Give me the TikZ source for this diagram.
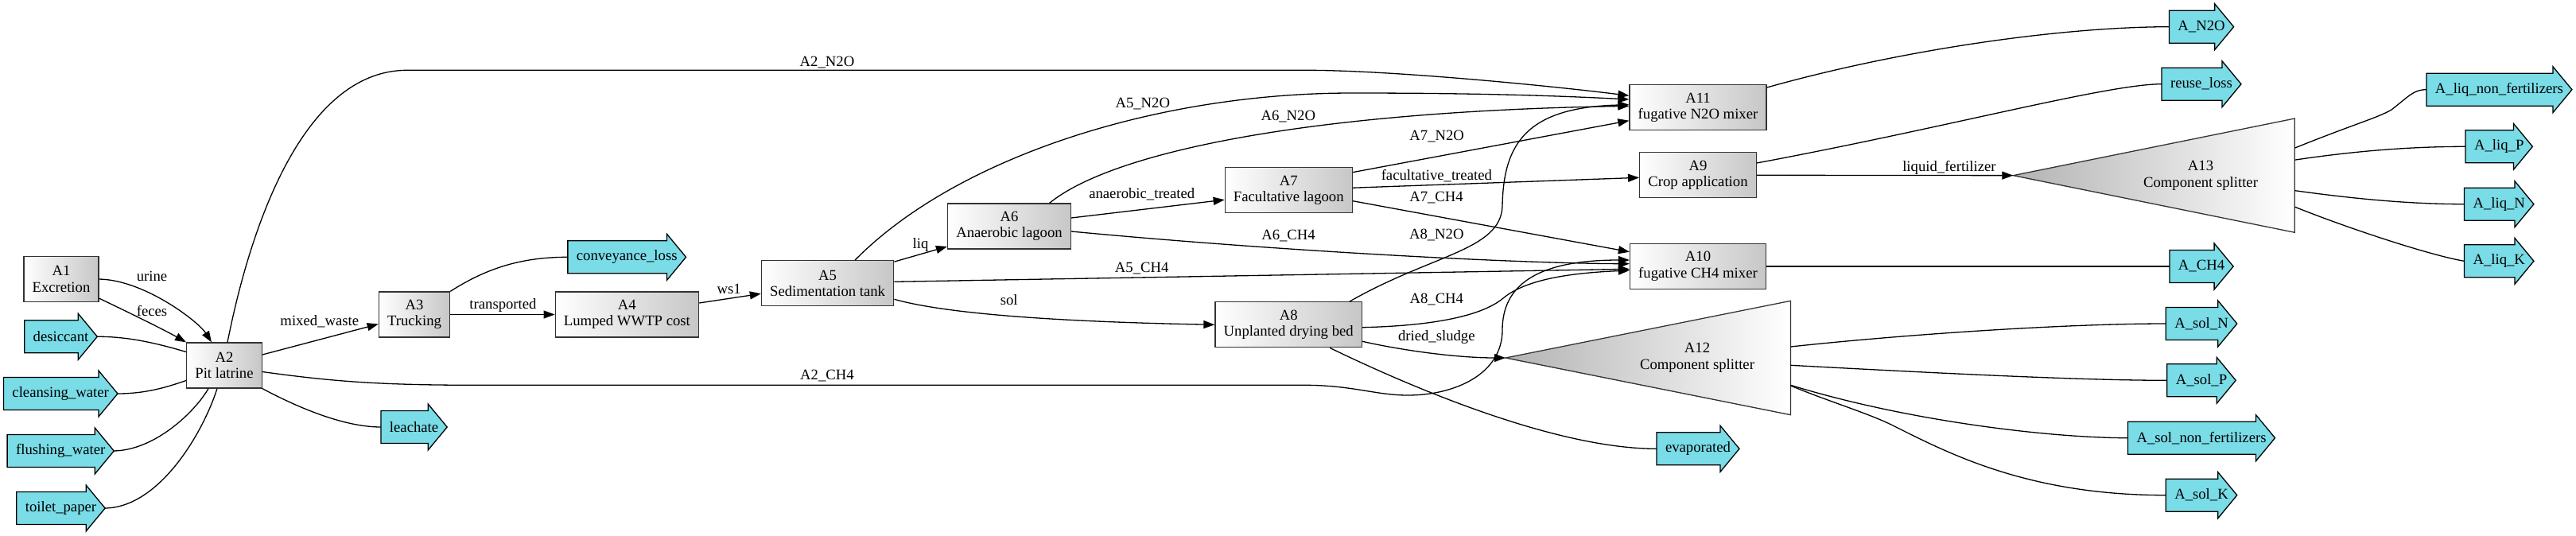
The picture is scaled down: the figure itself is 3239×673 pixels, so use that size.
\documentclass[tikz,border=0pt]{standalone}
\usepackage{fontspec}
\setmainfont{Liberation Serif}
\usetikzlibrary{arrows.meta,calc}
\pgfdeclarelayer{bgwhite}
\pgfdeclarelayer{background}
\pgfsetlayers{bgwhite,background,main}
\definecolor{outcyan}{RGB}{121,220,231}
\newcommand\nfont{\fontsize{18.7}{20.5}\selectfont}
\tikzset{
 proc/.style={draw=black!80, line width=1.3pt, left color=white, right color=black!22, minimum height=57pt, minimum width=72pt, inner xsep=10.7pt, inner ysep=0pt, align=center, font=\nfont},
 arrtext/.style={minimum height=41pt, inner xsep=11pt, inner ysep=0pt, outer sep=0pt, font=\nfont},
 arrshape/.style={fill=outcyan, draw=black, line width=1.3pt, line join=miter},
 splitbox/.style={inner sep=0pt, outer sep=0pt},
 splitshade/.style={left color=black!30, right color=white, draw=black!80, line width=1.3pt, line join=miter},
 flow/.style={line width=1.3pt, -{Triangle[length=14pt,width=10pt]}},
 link/.style={line width=1.3pt},
 lbl/.style={font=\nfont, inner sep=0pt},
}
\newcommand\flowarrow[4]{%
 \node[arrtext] (#1) at (#2,#3) {#4};
 \begin{pgfonlayer}{background}
 \filldraw[arrshape] (#1.south west) -- ($(#1.south east)+(-24,0)$) -- ($(#1.south east)+(-24,8.5)$) -- (#1.east) -- ($(#1.north east)+(-24,-8.5)$) -- ($(#1.north east)+(-24,0)$) -- (#1.north west) -- cycle;
 \end{pgfonlayer}}
\begin{document}
\begin{tikzpicture}[x=1pt,y=-1pt]
\begin{pgfonlayer}{bgwhite}\fill[white] (0,0) rectangle (3239,673);\end{pgfonlayer}
\useasboundingbox (0,0) rectangle (3239,673);
% process nodes
\node[proc] (A1) at (77,351) {A1\\Excretion};
\node[proc] (A2) at (282,459.5) {A2\\Pit latrine};
\node[proc] (A3) at (521,395.5) {A3\\Trucking};
\node[proc] (A4) at (788.4,395.5) {A4\\Lumped WWTP cost};
\node[proc] (A5) at (1040.6,356.3) {A5\\Sedimentation tank};
\node[proc] (A6) at (1269,284.5) {A6\\Anaerobic lagoon};
\node[proc] (A7) at (1620.3,239.2) {A7\\Facultative lagoon};
\node[proc] (A8) at (1620.2,408.3) {A8\\Unplanted drying bed};
\node[proc] (A9) at (2135,220.3) {A9\\Crop application};
\node[proc] (A10) at (2135,335) {A10\\fugative CH4 mixer};
\node[proc] (A11) at (2135,135.3) {A11\\fugative N2O mixer};
% splitters
\node[splitbox, minimum width=358.5pt, minimum height=143.4pt] (A12) at (2072.25,450) {};
\shadedraw[splitshade] (A12.west) -- (A12.north east) -- (A12.south east) -- cycle;
\node[lbl, align=center] (A12t) at ($(A12.center)+(61.75,0)$) {A12\\Component splitter};
\node[splitbox, minimum width=354pt, minimum height=143.3pt] (A13) at (2708.3,220.65) {};
\shadedraw[splitshade] (A13.west) -- (A13.north east) -- (A13.south east) -- cycle;
\node[lbl, align=center] (A13t) at ($(A13.center)+(58.7,0)$) {A13\\Component splitter};
% flow arrows
\flowarrow{desiccant}{76.5}{423.3}{desiccant}
\flowarrow{cleansing}{76.2}{495}{cleansing\_water}
\flowarrow{flushing}{76.2}{567}{flushing\_water}
\flowarrow{toilet}{76.5}{639}{toilet\_paper}
\flowarrow{leachate}{520.6}{537}{leachate}
\flowarrow{conveyance}{788.2}{323.3}{conveyance\_loss}
\flowarrow{evaporated}{2135}{564.3}{evaporated}
\flowarrow{AN2O}{2768}{33.7}{A\_N2O}
\flowarrow{reuse}{2768}{105.7}{reuse\_loss}
\flowarrow{ACH4}{2768}{335}{A\_CH4}
\flowarrow{solN}{2768}{407}{A\_sol\_N}
\flowarrow{solP}{2768}{478.3}{A\_sol\_P}
\flowarrow{solnon}{2768}{550.7}{A\_sol\_non\_fertilizers}
\flowarrow{solK}{2768}{622.7}{A\_sol\_K}
\flowarrow{liqnon}{3142.4}{112.7}{A\_liq\_non\_fertilizers}
\flowarrow{liqP}{3142.2}{184.3}{A\_liq\_P}
\flowarrow{liqN}{3142.2}{256.7}{A\_liq\_N}
\flowarrow{liqK}{3142.2}{328.3}{A\_liq\_K}
% edges
\draw[flow] (A1.east) .. controls (182,352) and (250,405) .. ($(A2.north)+(-16,0)$);
\draw[flow] ($(A1.south east)+(0,-5)$) .. controls (160,392) and (205,414) .. (A2.north west);
\draw[link] (desiccant.east) .. controls (165,423) and (205,434) .. ($(A2.west)+(0,-17)$);
\draw[link] (cleansing.east) .. controls (185,495) and (212,486) .. ($(A2.west)+(0,19)$);
\draw[link] (flushing.east) .. controls (195,566) and (245,518) .. ($(A2.south)+(-20,0)$);
\draw[link] (toilet.east) .. controls (200,638) and (255,545) .. ($(A2.south)+(-9,0)$);
\draw[flow] ($(A2.east)+(0,-13.5)$) -- ($(A3.west)+(0,12)$);
\draw[flow] ($(A2.north)+(4,0)$) .. controls (320,260) and (390,88.3) .. (512,88.3) -- (1642,88.3) .. controls (1750,88.3) and (1950,108) .. ($(A11.west)+(0,-15)$);
\draw[flow] ($(A2.east)+(0,8)$) .. controls (420,480) and (480,484.3) .. (600,484.3) -- (1640,484.3) .. controls (1700,484.3) and (1730,497) .. (1770,497) .. controls (1830,497) and (1889,470) .. (1889,415) .. controls (1889,360) and (1930,327) .. ($(A10.west)+(0,-8)$);
\draw[flow] (A3.east) -- (A4.west);
\draw[link] (A3.north east) .. controls (615,335) and (660,323.3) .. (conveyance.west);
\draw[link] (A2.south east) .. controls (370,510) and (430,537) .. (leachate.west);
\draw[flow] ($(A4.east)+(0,-14.5)$) -- ($(A5.west)+(0,13)$);
\draw[flow] ($(A5.north east)+(0,2)$) -- ($(A6.west)+(0,25.5)$);
\draw[flow] ($(A5.north)+(34.4,0)$) .. controls (1200,200) and (1450,117) .. (1700,117) .. controls (1850,117) and (1950,120) .. ($(A11.west)+(0,-10.3)$);
\draw[flow] ($(A5.east)+(0,-2)$) -- ($(A10.west)+(0,3.3)$);
\draw[flow] ($(A5.east)+(0,20)$) .. controls (1180,392) and (1300,404) .. (A8.west);
\draw[flow] ($(A6.east)+(0,-10.5)$) -- ($(A7.west)+(0,12)$);
\draw[flow] ($(A6.north)+(50.6,0)$) .. controls (1400,190) and (1650,140) .. ($(A11.west)+(0,-2)$);
\draw[flow] ($(A6.east)+(0,6.5)$) .. controls (1600,315) and (1900,331) .. ($(A10.west)+(0,-3.3)$);
\draw[flow] ($(A7.north east)+(0,6.6)$) -- ($(A11.west)+(0,16.4)$);
\draw[flow] ($(A7.east)+(0,-3)$) -- ($(A9.west)+(0,3)$);
\draw[flow] ($(A7.east)+(0,13.5)$) -- ($(A10.west)+(0,-18.3)$);
\draw[flow] ($(A8.north)+(76.7,0)$) .. controls (1800,320) and (1886,315) .. (1889,260) .. controls (1890,180) and (1920,135) .. ($(A11.west)+(0,-3.6)$);
\draw[flow] ($(A8.east)+(0,3.4)$) .. controls (1790,410) and (1860,400) .. (1890,375) .. controls (1920,350) and (1980,343) .. ($(A10.west)+(0,5)$);
\draw[flow] ($(A8.east)+(0,21)$) .. controls (1760,440) and (1830,450) .. (A12.west);
\draw[link] ($(A8.south)+(52,0)$) .. controls (1760,480) and (1950,564.3) .. (evaporated.west);
\draw[link] ($(A9.east)+(0,-15.3)$) .. controls (2450,160) and (2650,105.7) .. (reuse.west);
\draw[flow] (A9.east) -- (A13.west);
\draw[link] ($(A11.east)+(0,-25.3)$) .. controls (2400,60) and (2600,33.7) .. (AN2O.west);
\draw[link] (A10.east) -- (ACH4.west);
\draw[link] ($(A13.east)+(0,-34.5)$) .. controls (2960,156) and (2990,148) .. (3007,138) .. controls (3030,120) and (3035,112.7) .. (liqnon.west);
\draw[link] ($(A13.east)+(0,-19.5)$) .. controls (2960,190) and (3030,184.3) .. (liqP.west);
\draw[link] ($(A13.east)+(0,19)$) .. controls (2960,250) and (3030,256.7) .. (liqN.west);
\draw[link] ($(A13.east)+(0,39.5)$) .. controls (2960,290) and (3060,322) .. (liqK.west);
\draw[link] ($(A12.east)+(0,-14)$) .. controls (2400,420) and (2600,407) .. (solN.west);
\draw[link] ($(A12.east)+(0,9.3)$) .. controls (2450,470) and (2620,478.3) .. (solP.west);
\draw[link] ($(A12.east)+(0,34.3)$) .. controls (2400,530) and (2580,550.7) .. (solnon.west);
\draw[link] ($(A12.east)+(0,35)$) .. controls (2300,505) and (2350,520) .. (2380,535) .. controls (2450,570) and (2550,622.7) .. (solK.west);
% labels
\node[lbl] (l1) at (191,347.7) {urine};
\node[lbl] (l2) at (191,391) {feces};
\node[lbl] (l3) at (401.8,404.3) {mixed\_waste};
\node[lbl] (l4) at (632.5,384.3) {transported};
\node[lbl] (l5) at (916.6,363.3) {ws1};
\node[lbl] (l6) at (1157.6,308.3) {liq};
\node[lbl] (l7) at (1268.7,376.7) {sol};
\node[lbl] (l8) at (1435.7,338) {A5\_CH4};
\node[lbl] (l9) at (1436.8,131) {A5\_N2O};
\node[lbl] (l10) at (1040,79) {A2\_N2O};
\node[lbl] (l11) at (1040,473) {A2\_CH4};
\node[lbl] (l12) at (1435.7,244.3) {anaerobic\_treated};
\node[lbl] (l13) at (1619.8,146.7) {A6\_N2O};
\node[lbl] (l14) at (1620,296.7) {A6\_CH4};
\node[lbl] (l15) at (1806.7,171.7) {A7\_N2O};
\node[lbl] (l16) at (1806.3,220.7) {facultative\_treated};
\node[lbl] (l17) at (1806,248.3) {A7\_CH4};
\node[lbl] (l18) at (1806.3,295.7) {A8\_N2O};
\node[lbl] (l19) at (1806.3,376) {A8\_CH4};
\node[lbl] (l20) at (1806.3,424.3) {dried\_sludge};
\node[lbl] (l21) at (2450.9,210.7) {liquid\_fertilizer};
\end{tikzpicture}
\end{document}
